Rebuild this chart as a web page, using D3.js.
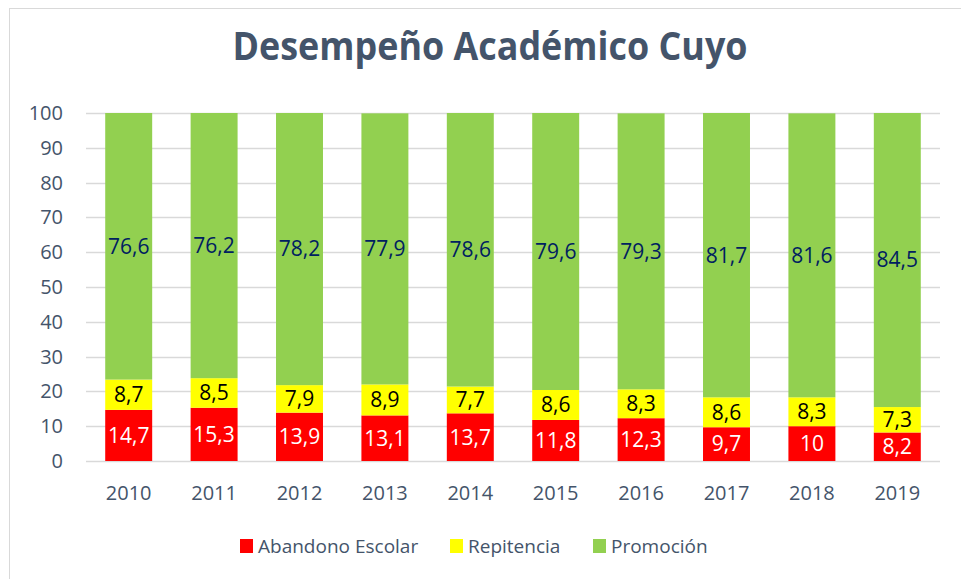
<!DOCTYPE html>
<html>
<head>
<meta charset="utf-8">
<script src="https://cdn.jsdelivr.net/npm/d3@7"></script>
<style>
  body { margin: 0; background: #fff; }
  text { font-family: "Open Sans", sans-serif; }
</style>
</head>
<body>
<div class="chart"></div>
<script>
const years = ['2010', '2011', '2012', '2013', '2014', '2015', '2016', '2017', '2018', '2019']
const abandono = [14.7, 15.3, 13.9, 13.1, 13.7, 11.8, 12.3, 9.7, 10, 8.2]
const repitencia = [8.7, 8.5, 7.9, 8.9, 7.7, 8.6, 8.3, 8.6, 8.3, 7.3]
const promocion = [76.6, 76.2, 78.2, 77.9, 78.6, 79.6, 79.3, 81.7, 81.6, 84.5]
const seriesNames = ['Abandono Escolar', 'Repitencia', 'Promoción']
const yTicks = [0, 10, 20, 30, 40, 50, 60, 70, 80, 90, 100]
const title = 'Desempeño Académico Cuyo'

const width = 961
const height = 579
const margin = { top: 113, right: 21, bottom: 118, left: 86 }

const colors = ['#ff0000', '#ffff00', '#92d050']
const labelColors = ['#ffffff', '#000000', '#002060']
const axisColor = '#44546a'

let svg = d3.select('.chart')
  .append('svg')
  .attr('width', width)
  .attr('height', height)

// chart border
svg.append('rect')
  .attr('x', 9.5)
  .attr('y', 8.5)
  .attr('width', width)
  .attr('height', height)
  .attr('fill', 'none')
  .attr('stroke', '#d9d9d9')

let table = years.map((y, i) => ({
  year: y,
  'Abandono Escolar': abandono[i],
  'Repitencia': repitencia[i],
  'Promoción': promocion[i]
}))

let stacked = d3.stack().keys(seriesNames)(table)

let x = d3.scaleBand()
  .domain(years)
  .range([margin.left, width - margin.right])
  .paddingInner(0.45)
  .paddingOuter(0.225)

let y = d3.scaleLinear()
  .domain([0, 100])
  .range([height - margin.bottom, margin.top])

// gridlines
svg.append('g')
  .selectAll('line')
  .data(yTicks)
  .enter().append('line')
  .attr('x1', margin.left)
  .attr('x2', width - margin.right)
  .attr('y1', d => Math.round(y(d)) + 0.5)
  .attr('y2', d => Math.round(y(d)) + 0.5)
  .attr('stroke', '#d9d9d9')
  .attr('stroke-width', 1.5)

// y tick labels
svg.append('g')
  .selectAll('text')
  .data(yTicks)
  .enter().append('text')
  .attr('x', 63)
  .attr('y', d => y(d))
  .attr('dy', '0.35em')
  .attr('text-anchor', 'end')
  .attr('font-size', 20)
  .attr('fill', axisColor)
  .text(d => d)

// x labels
svg.append('g')
  .selectAll('text')
  .data(years)
  .enter().append('text')
  .attr('x', d => x(d) + x.bandwidth() / 2)
  .attr('y', 493)
  .attr('dy', '0.35em')
  .attr('text-anchor', 'middle')
  .attr('font-size', 20)
  .attr('fill', axisColor)
  .text(d => d)

let fmt = v => String(v).replace('.', ',')

let layer = svg.selectAll('.layer')
  .data(stacked)
  .enter().append('g')
  .attr('class', 'layer')

layer.selectAll('rect')
  .data(d => d)
  .enter().append('rect')
  .attr('x', d => x(d.data.year))
  .attr('width', x.bandwidth())
  .attr('y', d => y(d[1]))
  .attr('height', d => y(d[0]) - y(d[1]))
  .attr('fill', function () { return colors[d3.select(this.parentNode).datum().index] })

layer.selectAll('text')
  .data(d => d.map(p => ({ p: p, key: d.key, index: d.index })))
  .enter().append('text')
  .attr('x', d => x(d.p.data.year) + x.bandwidth() / 2)
  .attr('y', d => y((d.p[0] + d.p[1]) / 2))
  .attr('dy', '0.35em')
  .attr('text-anchor', 'middle')
  .attr('font-size', 21)
  .attr('fill', d => labelColors[d.index])
  .text(d => fmt(d.p.data[d.key]))

// title
svg.append('text')
  .attr('x', 490)
  .attr('y', 60)
  .attr('text-anchor', 'middle')
  .attr('font-size', 40)
  .attr('font-weight', 'bold')
  .attr('fill', axisColor)
  .attr('textLength', 515)
  .attr('lengthAdjust', 'spacingAndGlyphs')
  .text(title)

// legend
let legendX = [240, 450, 593]
let legend = svg.selectAll('.legend')
  .data(seriesNames)
  .enter().append('g')
  .attr('class', 'legend')
  .attr('transform', (d, i) => 'translate(' + legendX[i] + ',546)')

legend.append('rect')
  .attr('x', 0)
  .attr('y', -7)
  .attr('width', 13)
  .attr('height', 14)
  .attr('fill', (d, i) => colors[i])

legend.append('text')
  .attr('x', 18)
  .attr('y', 0)
  .attr('dy', '0.35em')
  .attr('font-size', 19)
  .attr('fill', axisColor)
  .text(d => d)
</script>
</body>
</html>
